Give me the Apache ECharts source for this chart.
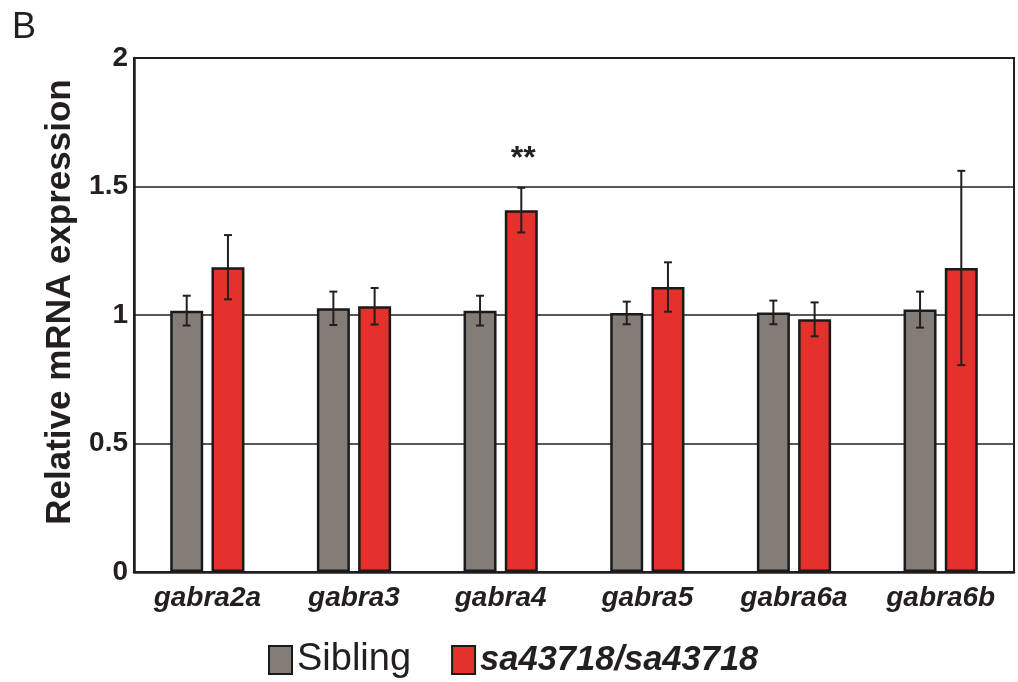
<!DOCTYPE html>
<html>
<head>
<meta charset="utf-8">
<script src="https://cdn.jsdelivr.net/npm/echarts@6/dist/echarts.min.js"></script>
<style>
html,body{margin:0;padding:0;background:#fff;}
#chart{width:1018px;height:682px;}
</style>
</head>
<body>
<div id="chart"></div>
<script>
var categories = ['gabra2a', 'gabra3', 'gabra4', 'gabra5', 'gabra6a', 'gabra6b'];
var siblingMean = [1.017, 1.026, 1.017, 1.008, 1.010, 1.021];
var siblingErr  = [0.058, 0.065, 0.058, 0.044, 0.046, 0.070];
var mutantMean  = [1.186, 1.034, 1.408, 1.109, 0.983, 1.183];
var mutantErr   = [0.125, 0.071, 0.087, 0.096, 0.066, 0.378];
var mutantSig   = ['', '', '**', '', '', ''];
var seriesNames = ['Sibling', 'sa43718/sa43718'];
var yTicks = [0, 0.5, 1, 1.5, 2];

var FONT = 'Liberation Sans, Arial, sans-serif';
var INK = '#231f20';
var BAR_W = 0.225, BAR_GAP = 0.25;

function errData(means, errs, sigs) {
  return means.map(function (m, i) {
    return [i, m - errs[i], m + errs[i], sigs ? sigs[i] : ''];
  });
}

function makeErrRender(side) {
  return function (params, api) {
    var idx = api.value(0);
    var lo = api.coord([idx, api.value(1)]);
    var hi = api.coord([idx, api.value(2)]);
    var band = api.size([1, 0])[0];
    var off = band * BAR_W * (1 + BAR_GAP) / 2 * side;
    var x = lo[0] + off;
    var cap = 4;
    var style = { stroke: INK, lineWidth: 2 };
    var children = [
      { type: 'line', shape: { x1: x, y1: hi[1], x2: x, y2: lo[1] }, style: style },
      { type: 'line', shape: { x1: x - cap, y1: hi[1], x2: x + cap, y2: hi[1] }, style: style },
      { type: 'line', shape: { x1: x - cap, y1: lo[1], x2: x + cap, y2: lo[1] }, style: style }
    ];
    var sig = mutantSig[idx];
    if (side > 0 && sig) {
      children.push({
        type: 'text',
        style: {
          text: sig, x: x + 2, y: hi[1] - 29,
          align: 'center', verticalAlign: 'middle',
          font: 'bold 32px ' + FONT, fill: INK
        }
      });
    }
    return { type: 'group', children: children };
  };
}

var chart = echarts.init(document.getElementById('chart'), null, { renderer: 'canvas' });
chart.setOption({
  backgroundColor: '#ffffff',
  animation: false,
  graphic: [{
    type: 'text', left: 12, top: 10,
    style: { text: 'B', font: '36px ' + FONT, fill: INK }
  }],
  grid: {
    left: 134, right: 4, top: 58, bottom: 110,
    show: true, borderColor: INK, borderWidth: 2, backgroundColor: 'transparent'
  },
  legend: {
    data: seriesNames,
    bottom: -2,
    left: 263,
    itemWidth: 23,
    itemHeight: 28,
    itemGap: 40,
    icon: 'rect',
    formatter: function (n) { return n === 'Sibling' ? '{a|' + n + '}' : '{b|' + n + '}'; },
    textStyle: {
      rich: {
        a: { fontFamily: FONT, fontSize: 38, color: INK },
        b: { fontFamily: FONT, fontSize: 34.5, fontWeight: 'bold', fontStyle: 'italic', color: INK }
      }
    }
  },
  xAxis: {
    type: 'category',
    data: categories,
    axisLine: { show: true, lineStyle: { color: INK, width: 2.5 } },
    axisTick: { show: false },
    axisLabel: {
      fontFamily: FONT, fontSize: 28, fontWeight: 'bold', fontStyle: 'italic',
      color: INK, margin: 12
    }
  },
  yAxis: {
    type: 'value',
    min: 0, max: 2, interval: 0.5,
    name: 'Relative mRNA expression',
    nameLocation: 'middle',
    nameGap: 49,
    nameTextStyle: { fontFamily: FONT, fontSize: 35, fontWeight: 'bold', color: INK, padding: [0, 0, 0, 26] },
    axisLine: { show: true, lineStyle: { color: INK, width: 2.5 } },
    axisTick: { show: false },
    axisLabel: {
      fontFamily: FONT, fontSize: 28, fontWeight: 'bold', color: INK, margin: 6,
      formatter: function (v) { return yTicks.indexOf(v) >= 0 ? String(v) : ''; }
    },
    splitLine: { show: true, lineStyle: { color: INK, width: 1.5 } }
  },
  series: [
    {
      name: seriesNames[0], type: 'bar', data: siblingMean,
      barWidth: (BAR_W * 100) + '%', barGap: (BAR_GAP * 100) + '%',
      itemStyle: { color: '#837c77', borderColor: '#1a1a1a', borderWidth: 2.5 },
      z: 2
    },
    {
      name: seriesNames[1], type: 'bar', data: mutantMean,
      barWidth: (BAR_W * 100) + '%', barGap: (BAR_GAP * 100) + '%',
      itemStyle: { color: '#e4312b', borderColor: '#1a1a1a', borderWidth: 2.5 },
      z: 2
    },
    {
      name: 'errSibling', type: 'custom', data: errData(siblingMean, siblingErr),
      renderItem: makeErrRender(-1), encode: { x: 0, y: [1, 2] }, z: 5, silent: true
    },
    {
      name: 'errMutant', type: 'custom', data: errData(mutantMean, mutantErr, mutantSig),
      renderItem: makeErrRender(1), encode: { x: 0, y: [1, 2] }, z: 5, silent: true
    }
  ]
});
</script>
</body>
</html>
